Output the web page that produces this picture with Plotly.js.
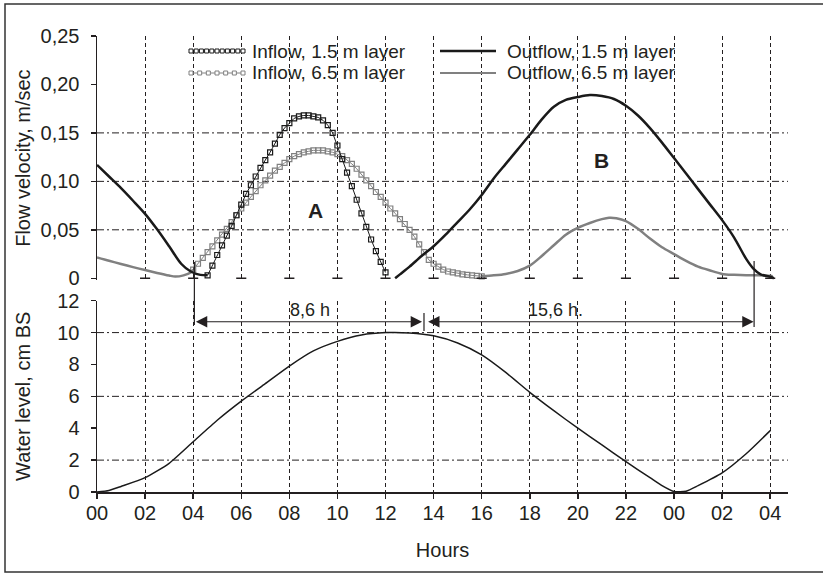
<!DOCTYPE html>
<html><head><meta charset="utf-8">
<script src="https://cdn.plot.ly/plotly-3.0.1.min.js"></script>
<style>html,body{margin:0;padding:0;background:#fff}#chart{width:823px;height:573px}</style>
</head><body><div id="chart"></div>
<script>
// ---------- data ----------
const hoursTickVals = [0,2,4,6,8,10,12,14,16,18,20,22,24,26,28];
const hoursTickText = ['00','02','04','06','08','10','12','14','16','18','20','22','00','02','04'];
const velocityTickVals = [0,0.05,0.10,0.15,0.20,0.25];
const velocityTickText = ['0','0,05','0,10','0,15','0,20','0,25'];
const levelTickVals = [0,2,4,6,8,10,12];
const velocityGridVals = [0.05,0.10,0.15];
const levelGridVals = [2,6,10];

// Outflow, 1.5 m layer (two parts)
const outflow15HoursA = [0,0.5,1,1.5,2,2.5,3,3.5,3.9,4.3,4.6];
const outflow15A = [0.117,0.105,0.093,0.080,0.0665,0.0505,0.033,0.015,0.007,0.0035,0.003];
const outflow15HoursB = [12.4,12.6,13,13.5,14,14.5,15,15.5,16,16.5,17,17.5,18,18.5,19,19.5,20,20.5,21,21.5,22,22.5,23,23.5,24,24.5,25,25.5,26,26.5,27,27.3,27.6,28,28.15];
const outflow15B = [0,0.004,0.012,0.023,0.033,0.045,0.058,0.071,0.086,0.103,0.118,0.133,0.148,0.164,0.177,0.184,0.187,0.189,0.188,0.185,0.178,0.168,0.155,0.140,0.124,0.108,0.092,0.076,0.060,0.042,0.020,0.010,0.004,0.0015,0];

// Outflow, 6.5 m layer (two parts)
const outflow65HoursA = [0,0.5,1,1.5,2,2.5,3,3.25,3.6,3.9,4.0];
const outflow65A = [0.0215,0.018,0.0148,0.0115,0.0085,0.0055,0.0028,0.0017,0.003,0.006,0.009];
const outflow65HoursB = [16,16.5,17,17.5,18,18.5,19,19.5,20,20.5,21,21.3,21.6,22,22.5,23,23.5,24,24.5,25,25.5,26,26.5,27,27.5,28,28.1];
const outflow65B = [0.002,0.003,0.0045,0.0075,0.013,0.023,0.034,0.045,0.052,0.057,0.061,0.0625,0.062,0.059,0.051,0.041,0.032,0.025,0.018,0.012,0.008,0.0045,0.0035,0.003,0.003,0.0025,0.002];

// Inflow, 1.5 m layer
const inflow15Hours = [4.6,4.8,5.0,5.2,5.4,5.6,5.8,6.0,6.2,6.4,6.6,6.8,7.0,7.2,7.4,7.6,7.8,8.0,8.2,8.4,8.6,8.8,9.0,9.2,9.4,9.6,9.8,10.0,10.2,10.4,10.6,10.8,11.0,11.2,11.4,11.6,11.8,12.0];
const inflow15 = [0.003,0.013,0.024,0.034,0.044,0.054,0.065,0.076,0.087,0.096,0.105,0.114,0.122,0.130,0.139,0.148,0.155,0.160,0.165,0.167,0.168,0.168,0.167,0.166,0.163,0.158,0.150,0.137,0.123,0.109,0.095,0.081,0.067,0.053,0.040,0.028,0.017,0.006];

// Inflow, 6.5 m layer
const inflow65Hours = [4.0,4.2,4.4,4.6,4.8,5.0,5.2,5.4,5.6,5.8,6.0,6.2,6.4,6.6,6.8,7.0,7.2,7.4,7.6,7.8,8.0,8.2,8.4,8.6,8.8,9.0,9.2,9.4,9.6,9.8,10.0,10.2,10.4,10.6,10.8,11.0,11.2,11.4,11.6,11.8,12.0,12.2,12.4,12.6,12.8,13.0,13.2,13.4,13.6,13.8,14.0,14.2,14.4,14.6,14.8,15.0,15.2,15.4,15.6,15.8,16.0];
const inflow65 = [0.009,0.015,0.021,0.027,0.033,0.039,0.045,0.051,0.058,0.065,0.072,0.078,0.084,0.090,0.096,0.101,0.106,0.111,0.115,0.119,0.123,0.126,0.128,0.130,0.131,0.132,0.132,0.132,0.131,0.130,0.128,0.126,0.122,0.118,0.113,0.107,0.101,0.095,0.089,0.084,0.078,0.072,0.067,0.061,0.056,0.050,0.043,0.035,0.027,0.019,0.015,0.012,0.009,0.007,0.006,0.005,0.004,0.0035,0.003,0.0025,0.002];

// Water level, cm BS
const levelHours = [0,0.5,1,2,3,4,5,6,7,8,9,10,11,12,13,14,15,16,17,18,19,20,21,22,23,23.5,24,24.5,25,26,27,28];
const waterLevel = [0,0.1,0.35,0.9,1.8,3.15,4.5,5.7,6.8,7.9,8.85,9.45,9.85,10.0,9.98,9.8,9.35,8.6,7.5,6.25,5.1,4.0,2.95,1.9,0.9,0.4,0.03,0.05,0.4,1.2,2.4,3.85];

// ---------- layout helpers ----------
const W = 823, H = 573, M = {l:97, r:35, t:36, b:81};
const PW = W - M.l - M.r, PH = H - M.t - M.b;
const px = x => (x - M.l) / PW;
const py = y => (H - M.b - y) / PH;

const INK = '#231f20', GRAY = '#808080', FONT = 'Liberation Sans, Arial, sans-serif';
const HDASH = '7px,3px,2px,3px', VDASH = '4px,3px';

const lineTrace = (x, y, color, width, name) => ({
  type:'scatter', mode:'lines', x, y, xaxis:'x', yaxis:'y', name, showlegend:false,
  line:{color, width, shape:'spline', smoothing:0.8}, hoverinfo:'x+y'
});
const markTrace = (x, y, color, name) => ({
  type:'scatter', mode:'lines+markers', x, y, xaxis:'x', yaxis:'y', name, showlegend:false, cliponaxis:false,
  line:{color, width:1}, marker:{symbol:'square-open', size:5, color, line:{width:1.2, color}}
});

const traces = [
  lineTrace(outflow65HoursA, outflow65A, GRAY, 2.5, 'Outflow, 6.5 m layer'),
  lineTrace(outflow65HoursB, outflow65B, GRAY, 2.5, 'Outflow, 6.5 m layer'),
  markTrace(inflow65Hours, inflow65, GRAY, 'Inflow, 6.5 m layer'),
  lineTrace(outflow15HoursA, outflow15A, '#1a1a1a', 2.5, 'Outflow, 1.5 m layer'),
  lineTrace(outflow15HoursB, outflow15B, '#1a1a1a', 2.5, 'Outflow, 1.5 m layer'),
  markTrace(inflow15Hours, inflow15, '#1a1a1a', 'Inflow, 1.5 m layer'),
  {type:'scatter', mode:'lines', x:levelHours, y:waterLevel, xaxis:'x2', yaxis:'y2', name:'Water level', showlegend:false,
   line:{color:'#1a1a1a', width:1.5, shape:'spline', smoothing:0.6}}
];

const shapes = [];
// horizontal dash-dot grid
velocityGridVals.forEach(v => shapes.push({type:'line', xref:'x domain', x0:0, x1:1, yref:'y', y0:v, y1:v, layer:'below', line:{color:INK, width:1, dash:HDASH}}));
levelGridVals.forEach(v => shapes.push({type:'line', xref:'x2 domain', x0:0, x1:1, yref:'y2', y0:v, y1:v, layer:'below', line:{color:INK, width:1, dash:HDASH}}));
// caps at the foot of the upper grid lines
hoursTickVals.filter(h => h > 0).forEach(h => shapes.push({type:'line', xref:'x', yref:'y', x0:h-0.21, x1:h+0.21, y0:0, y1:0, line:{color:INK, width:1.3}}));
// duration markers
[[4.05, 262, 325], [27.33, 261, 327], [13.6, 313, 331]].forEach(([h, y0, y1]) =>
  shapes.push({type:'line', xref:'x', yref:'paper', x0:h, x1:h, y0:py(y0), y1:py(y1), line:{color:INK, width:1.2}}));
// frame (right edge falls outside the picture)
shapes.push({type:'rect', xref:'paper', yref:'paper', x0:px(5), x1:px(826), y0:py(572), y1:py(4), line:{color:'#333', width:1.5}});

// manual legend
const legendItems = [
  {text:'Inflow, 1.5 m layer', x0:189, x1:245, tx:251, y:51, color:'#1a1a1a', width:1, squares:11},
  {text:'Inflow, 6.5 m layer', x0:189, x1:245, tx:251, y:73, color:GRAY, width:1, squares:7},
  {text:'Outflow, 1.5 m layer', x0:440, x1:496, tx:506, y:51, color:'#1a1a1a', width:2.5, squares:0},
  {text:'Outflow, 6.5 m layer', x0:440, x1:496, tx:506, y:73, color:GRAY, width:2, squares:0}
];
const annotations = [];
legendItems.forEach(it => {
  shapes.push({type:'line', xref:'paper', yref:'paper', x0:px(it.x0), x1:px(it.x1), y0:py(it.y), y1:py(it.y), line:{color:it.color, width:it.width}});
  for (let i = 0; i < it.squares; i++) {
    const cx = it.x0 + 2 + i * (it.x1 - it.x0 - 4) / (it.squares - 1);
    shapes.push({type:'rect', xref:'paper', yref:'paper', xsizemode:'pixel', ysizemode:'pixel',
      xanchor:px(cx), yanchor:py(it.y), x0:-2, x1:2, y0:-2, y1:2, fillcolor:'#fff', line:{color:it.color, width:1}});
  }
  annotations.push({xref:'paper', yref:'paper', x:px(it.tx), y:py(it.y), xanchor:'left', yanchor:'middle', showarrow:false,
    text:it.text, height:19, borderpad:0, valign:'middle', font:{size:19, color:INK, family:FONT}});
});

// A / B labels
annotations.push({xref:'x', yref:'y', x:9.07, y:0.070, text:'<b>A</b>', showarrow:false, font:{size:21, color:INK, family:FONT}});
annotations.push({xref:'x', yref:'y', x:21.0, y:0.122, text:'<b>B</b>', showarrow:false, font:{size:21, color:INK, family:FONT}});
// duration arrows
const arrow = (xa, xb) => ({xref:'x2', yref:'y2', axref:'x2', ayref:'y2', x:xb, y:10.68, ax:xa, ay:10.68, text:'', showarrow:true,
  arrowside:'end+start', arrowhead:2, startarrowhead:2, arrowsize:1.9, startarrowsize:1.9, arrowwidth:1.2, arrowcolor:INK, standoff:0, startstandoff:0});
annotations.push(arrow(4.05, 13.52));
annotations.push(arrow(13.71, 27.31));
annotations.push({xref:'x2', yref:'y2', x:8.86, y:11.42, text:'8,6 h', showarrow:false, font:{size:18, color:INK, family:FONT}});
annotations.push({xref:'x2', yref:'y2', x:19.05, y:11.42, text:'15,6 h.', showarrow:false, font:{size:18, color:INK, family:FONT}});

const tickFont = {size:20, color:INK, family:FONT};
const layout = {
  width:W, height:H, margin:M, paper_bgcolor:'#fff', plot_bgcolor:'#fff', showlegend:false,
  font:{family:FONT, color:INK, size:20},
  xaxis:{domain:[0,1], anchor:'y', range:[0,28.74], tickmode:'array', tickvals:hoursTickVals, showticklabels:false, ticks:'',
    showline:false, zeroline:false, showgrid:true, gridcolor:INK, gridwidth:1, griddash:VDASH},
  yaxis:{domain:[py(280.2), 1], anchor:'x', range:[-0.002,0.25], tickmode:'array', tickvals:velocityTickVals, ticktext:velocityTickText,
    ticks:'outside', ticklen:5, tickwidth:1.5, tickcolor:INK, ticklabelstandoff:7, showline:true, linewidth:1.5, linecolor:INK,
    showgrid:false, zeroline:false, tickfont:tickFont,
    title:{text:'Flow velocity, m/sec', font:{size:20, color:INK, family:FONT}, standoff:4}},
  xaxis2:{domain:[0,1], anchor:'y2', range:[0,28.74], tickmode:'array', tickvals:hoursTickVals, ticktext:hoursTickText,
    ticks:'outside', ticklen:5, tickwidth:1.5, tickcolor:INK, ticklabelstandoff:-3, showline:true, linewidth:1.5, linecolor:INK,
    zeroline:false, showgrid:true, gridcolor:INK, gridwidth:1, griddash:VDASH, tickfont:tickFont,
    title:{text:'Hours', font:{size:20, color:INK, family:FONT}, standoff:20}},
  yaxis2:{domain:[0, py(300.7)], anchor:'x2', range:[0,12], tickmode:'array', tickvals:levelTickVals,
    ticks:'outside', ticklen:5, tickwidth:1.5, tickcolor:INK, ticklabelstandoff:7, showline:true, linewidth:1.5, linecolor:INK,
    showgrid:false, zeroline:false, tickfont:tickFont,
    title:{text:'Water level, cm BS', font:{size:20, color:INK, family:FONT}, standoff:21}},
  shapes, annotations
};

Plotly.newPlot('chart', traces, layout, {staticPlot:true, displayModeBar:false});
</script></body></html>
